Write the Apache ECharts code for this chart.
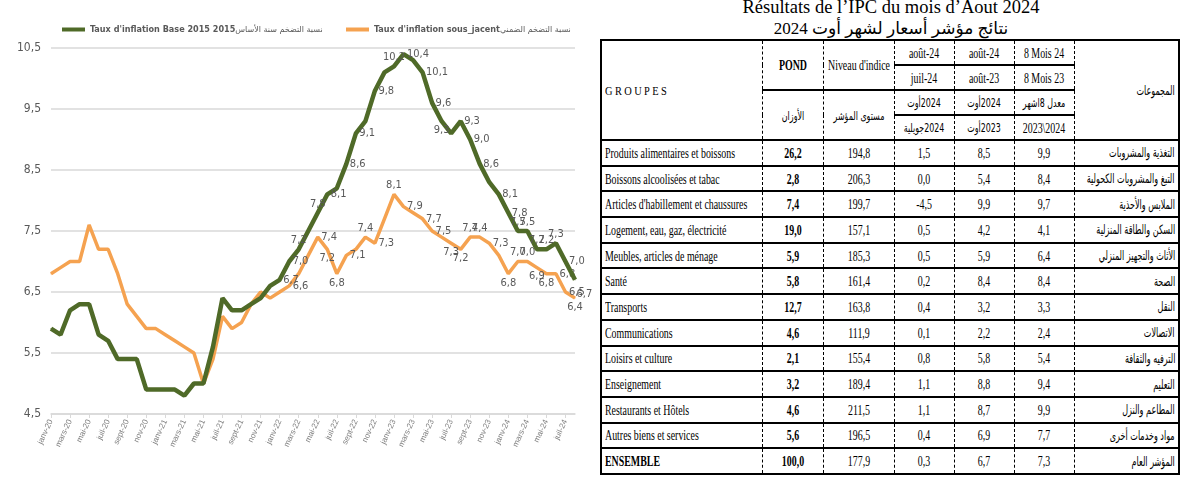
<!DOCTYPE html>
<html lang="fr">
<head>
<meta charset="utf-8">
<script src="https://cdn.jsdelivr.net/npm/echarts@6/dist/echarts.min.js"></script>
<style>
html,body{margin:0;padding:0;background:#fff;width:1185px;height:481px;overflow:hidden;position:relative}
#chart{position:absolute;left:0;top:0;width:595px;height:481px}
#title1{position:absolute;left:600px;width:582px;top:-2px;text-align:center;font-family:'Liberation Serif',serif;font-size:18.5px;line-height:18px;white-space:nowrap}
#title2{position:absolute;left:600px;width:582px;top:20px;text-align:center;font-family:'Liberation Serif','DejaVu Sans',serif;font-size:17px;line-height:17px;white-space:nowrap}
#tbl{position:absolute;left:600px;top:39px;width:578px;border-collapse:collapse;table-layout:fixed;border:2px solid #000;font-family:'Liberation Serif','Times New Roman',serif;font-size:15px;color:#000}
#tbl td{border-left:1px dashed #000;border-right:1px dashed #000;border-top:2px solid #000;border-bottom:2px solid #000;padding:0;white-space:nowrap;overflow:visible;vertical-align:middle;line-height:16px}
#tbl td span{display:inline-block;white-space:nowrap}
#tbl td.l{text-align:left;padding-left:3px}
#tbl td.l span{transform:scaleX(.66);transform-origin:0 50%}
#tbl td.c{text-align:left}
#tbl td.c span{position:relative;left:50%;transform:translateX(-50%) scaleX(.66)}
#tbl td.r{text-align:right;direction:rtl;padding-right:3px}
#tbl td.r span{transform:scaleX(.62);transform-origin:100% 50%;font-family:'DejaVu Sans',sans-serif;font-size:13px}
#tbl td.ca span{font-family:'DejaVu Sans',sans-serif;font-size:12px}
#tbl td.b span{font-weight:bold}
#tbl td.grp span{letter-spacing:3px;font-size:13px;transform:scaleX(.8)}
</style>
</head>
<body>
<div id="chart"></div>
<div id="title1"></div>
<div id="title2"></div>
<table id="tbl"></table>
<script>
// ---------------- chart data ----------------
const months = [
  'janv-20','févr-20','mars-20','avr-20','mai-20','juin-20','juil-20','août-20','sept-20','oct-20','nov-20','déc-20',
  'janv-21','févr-21','mars-21','avr-21','mai-21','juin-21','juil-21','août-21','sept-21','oct-21','nov-21','déc-21',
  'janv-22','févr-22','mars-22','avr-22','mai-22','juin-22','juil-22','août-22','sept-22','oct-22','nov-22','déc-22',
  'janv-23','févr-23','mars-23','avr-23','mai-23','juin-23','juil-23','août-23','sept-23','oct-23','nov-23','déc-23',
  'janv-24','févr-24','mars-24','avr-24','mai-24','juin-24','juil-24','août-24'
];
const tauxBase2015 = [
  5.9,5.8,6.2,6.3,6.3,5.8,5.7,5.4,5.4,5.4,
  4.9,4.9,4.9,4.9,4.8,5.0,5.0,5.6,6.4,6.2,
  6.2,6.3,6.4,6.6,6.7,7.0,7.2,7.5,7.8,8.1,
  8.2,8.6,9.1,9.3,9.8,10.1,10.2,10.4,10.3,10.1,
  9.6,9.3,9.1,9.3,9.0,8.6,8.3,8.1,7.8,7.5,
  7.5,7.2,7.2,7.3,7.0,6.7
];
const tauxSousJacent = [
  6.8,6.9,7.0,7.0,7.6,7.2,7.2,6.8,6.3,6.1,
  5.9,5.9,5.8,5.7,5.6,5.5,5.0,5.4,6.1,5.9,
  6.0,6.3,6.5,6.4,6.5,6.6,6.8,7.1,7.4,7.2,
  6.8,7.1,7.2,7.4,7.3,7.7,8.1,7.9,7.8,7.7,
  7.5,7.4,7.3,7.2,7.4,7.4,7.3,7.1,6.8,7.0,
  7.0,6.9,6.8,6.8,6.5,6.4
];
const yAxisMin = 4.5, yAxisMax = 10.5, yAxisStep = 1;
const legendBase = { fr: "Taux d'inflation Base 2015 2015", ar: 'نسبة التضخم سنة الأساس' };
const legendSousJacent = { fr: "Taux d'inflation sous_jacent", ar: 'نسبة التضخم الضمني' };
// indices of points that carry a value label in the original
const baseLabelIdx = [24,25,26,28,29,31,32,34,36,37,39,40,41,43,44,45,47,48,49,50,51,52,53,54,55];
const sjLabelIdx = [25,28,29,30,31,33,34,36,37,39,40,42,43,44,45,46,48,49,50,51,52,53,54,55];

// ---------------- table data ----------------
const titleFr = 'Résultats de l’IPC du mois d’Aout 2024';
const titleAr = 'نتائج مؤشر أسعار لشهر أوت 2024';
const headGroupes = 'GROUPES';
const headGroupesAr = 'المجموعات';
const headPond = ['POND', 'الأوزان'];
const headNiveau = ["Niveau d'indice", 'مستوى المؤشر'];
const headVarMens = ['août-24', 'juil-24', 'أوت\u200E2024', 'جويلية\u200E2024'];
const headVarAnn = ['août-24', 'août-23', 'أوت\u200E2024', 'أوت\u200E2023'];
const headMoy8 = ['8 Mois 24', '8 Mois 23', 'معدل 8اشهر', '2023\\2024'];
const groupesFr = ['Produits alimentaires et boissons','Boissons alcoolisées et tabac','Articles d\'habillement et chaussures','Logement, eau, gaz, électricité','Meubles, articles de ménage','Santé','Transports','Communications','Loisirs et culture','Enseignement','Restaurants et Hôtels','Autres biens et services','ENSEMBLE'];
const groupesAr = ['التغذية والمشروبات','التبغ والمشروبات الكحولية','الملابس والأحذية','السكن والطاقة المنزلية','الأثاث والتجهيز المنزلي','الصحة','النقل','الاتصالات','الترفيه والثقافة','التعليم','المطاعم والنزل','مواد وخدمات أخرى','المؤشر العام'];
const pond = ['26,2','2,8','7,4','19,0','5,9','5,8','12,7','4,6','2,1','3,2','4,6','5,6','100,0'];
const niveau = ['194,8','206,3','199,7','157,1','185,3','161,4','163,8','111,9','155,4','189,4','211,5','196,5','177,9'];
const varMensuelle = ['1,5','0,0','-4,5','0,5','0,5','0,2','0,4','0,1','0,8','1,1','1,1','0,4','0,3'];
const varAnnuelle = ['8,5','5,4','9,9','4,2','5,9','8,4','3,2','2,2','5,8','8,8','8,7','6,9','6,7'];
const moy8Mois = ['9,9','8,4','9,7','4,1','6,4','8,4','3,3','2,4','5,4','9,4','9,9','7,7','7,3'];

// ---------------- chart ----------------
const fmt = v => v.toFixed(1).replace('.', ',');
const baseLabelPos = {26:'top',28:'top',36:'top',41:'bottom',49:'top',50:'top',51:'top',52:'top',53:'top'};
const sjLabelPos = {29:'bottom',30:'bottom',33:'top',36:'top',42:'bottom',43:'bottom',44:'top',45:'top',48:'bottom',49:'top',50:'top',51:'bottom',52:'bottom',55:'bottom'};
const labelOffset = {base55:[-2,14]};
function buildPoints(values, idxList, posMap, key) {
  return values.map((v, i) => {
    if (idxList.indexOf(i) < 0) return { value: v };
    return { value: v, label: { show: true, position: posMap[i] || 'right', offset: labelOffset[key + i] || [0, 0] } };
  });
}
const narrow = "'Liberation Sans Narrow','DejaVu Sans Condensed',sans-serif";
const labelStyle = { show: false, fontFamily: narrow, fontSize: 11, color: '#595959', distance: 3, formatter: p => fmt(p.value) };
const nameBase = legendBase.fr + ' ' + legendBase.ar;
const nameSJ = legendSousJacent.fr + ' ' + legendSousJacent.ar;
const legendRich = {
  b: { fontFamily: narrow, fontWeight: 'bold', fontSize: 9, color: '#595959' },
  a: { fontFamily: "'DejaVu Sans',sans-serif", fontSize: 8, color: '#595959' }
};
const chart = echarts.init(document.getElementById('chart'));
chart.setOption({
  animation: false,
  backgroundColor: '#fff',
  grid: { left: 51, right: 20, top: 48, bottom: 67, containLabel: false },
  legend: [
    { data: [nameBase], left: 57, top: 20, icon: 'rect', itemWidth: 23, itemHeight: 4, itemGap: 0, selectedMode: false,
      formatter: () => '{b|' + legendBase.fr + '}{a|' + legendBase.ar + '}', textStyle: { rich: legendRich } },
    { data: [nameSJ], left: 341, top: 20, icon: 'rect', itemWidth: 23, itemHeight: 4, itemGap: 0, selectedMode: false,
      formatter: () => '{b|' + legendSousJacent.fr + '}{a|' + legendSousJacent.ar + '}', textStyle: { rich: legendRich } }
  ],
  xAxis: {
    type: 'category', data: months, boundaryGap: false,
    axisLine: { lineStyle: { color: '#d9d9d9', width: 1.5 } },
    axisTick: { show: true, interval: 1, length: 4, lineStyle: { color: '#d9d9d9' } },
    axisLabel: { interval: 1, rotate: 65, fontSize: 8, color: '#7f7f7f', margin: 6, fontFamily: "'Liberation Sans',sans-serif" },
    splitLine: { show: false }
  },
  yAxis: {
    type: 'value', min: yAxisMin, max: yAxisMax, interval: yAxisStep,
    axisLine: { show: false }, axisTick: { show: false },
    axisLabel: { formatter: v => fmt(v), fontSize: 12, color: '#595959', margin: 10, fontFamily: narrow },
    splitLine: { lineStyle: { color: '#d9d9d9', width: 1.5 } }
  },
  series: [
    { name: nameSJ, type: 'line', data: buildPoints(tauxSousJacent, sjLabelIdx, sjLabelPos, 'sj'),
      symbol: 'circle', symbolSize: 1, showSymbol: true, showAllSymbol: true,
      lineStyle: { color: '#f5a250', width: 3.5 }, itemStyle: { color: '#f5a250' }, label: labelStyle, emphasis: { disabled: true }, z: 2 },
    { name: nameBase, type: 'line', data: buildPoints(tauxBase2015, baseLabelIdx, baseLabelPos, 'base'),
      symbol: 'circle', symbolSize: 1, showSymbol: true, showAllSymbol: true,
      lineStyle: { color: '#4f6a28', width: 4.5 }, itemStyle: { color: '#4f6a28' }, label: labelStyle, emphasis: { disabled: true }, z: 3 }
  ]
});

// ---------------- table ----------------
document.getElementById('title1').textContent = titleFr;
document.getElementById('title2').textContent = titleAr;
const sp = t => '<span>' + t + '</span>';
let html = '<colgroup><col style="width:161px"><col style="width:61px"><col style="width:71px"><col style="width:60px"><col style="width:60px"><col style="width:60px"><col style="width:105px"></colgroup>';
html += '<tr style="height:25px"><td rowspan="4" class="l grp">' + sp(headGroupes) + '</td><td rowspan="2" class="c b">' + sp(headPond[0]) + '</td><td rowspan="2" class="c">' + sp(headNiveau[0]) + '</td>'
  + '<td class="c">' + sp(headVarMens[0]) + '</td><td class="c">' + sp(headVarAnn[0]) + '</td><td class="c">' + sp(headMoy8[0]) + '</td><td rowspan="4" class="r">' + sp(headGroupesAr) + '</td></tr>';
html += '<tr style="height:25px"><td class="c">' + sp(headVarMens[1]) + '</td><td class="c">' + sp(headVarAnn[1]) + '</td><td class="c">' + sp(headMoy8[1]) + '</td></tr>';
html += '<tr style="height:25px"><td rowspan="2" class="c ca">' + sp(headPond[1]) + '</td><td rowspan="2" class="c ca">' + sp(headNiveau[1]) + '</td>'
  + '<td class="c ca">' + sp(headVarMens[2]) + '</td><td class="c ca">' + sp(headVarAnn[2]) + '</td><td class="c ca">' + sp(headMoy8[2]) + '</td></tr>';
html += '<tr style="height:25px"><td class="c ca">' + sp(headVarMens[3]) + '</td><td class="c ca">' + sp(headVarAnn[3]) + '</td><td class="c">' + sp(headMoy8[3]) + '</td></tr>';
for (let i = 0; i < groupesFr.length; i++) {
  const last = i === groupesFr.length - 1;
  html += '<tr style="height:25.7px"><td class="l' + (last ? ' b' : '') + '">' + sp(groupesFr[i]) + '</td>'
    + '<td class="c b">' + sp(pond[i]) + '</td><td class="c">' + sp(niveau[i]) + '</td>'
    + '<td class="c">' + sp(varMensuelle[i]) + '</td><td class="c">' + sp(varAnnuelle[i]) + '</td><td class="c">' + sp(moy8Mois[i]) + '</td>'
    + '<td class="r">' + sp(groupesAr[i]) + '</td></tr>';
}
document.getElementById('tbl').innerHTML = html;
</script>
</body>
</html>
